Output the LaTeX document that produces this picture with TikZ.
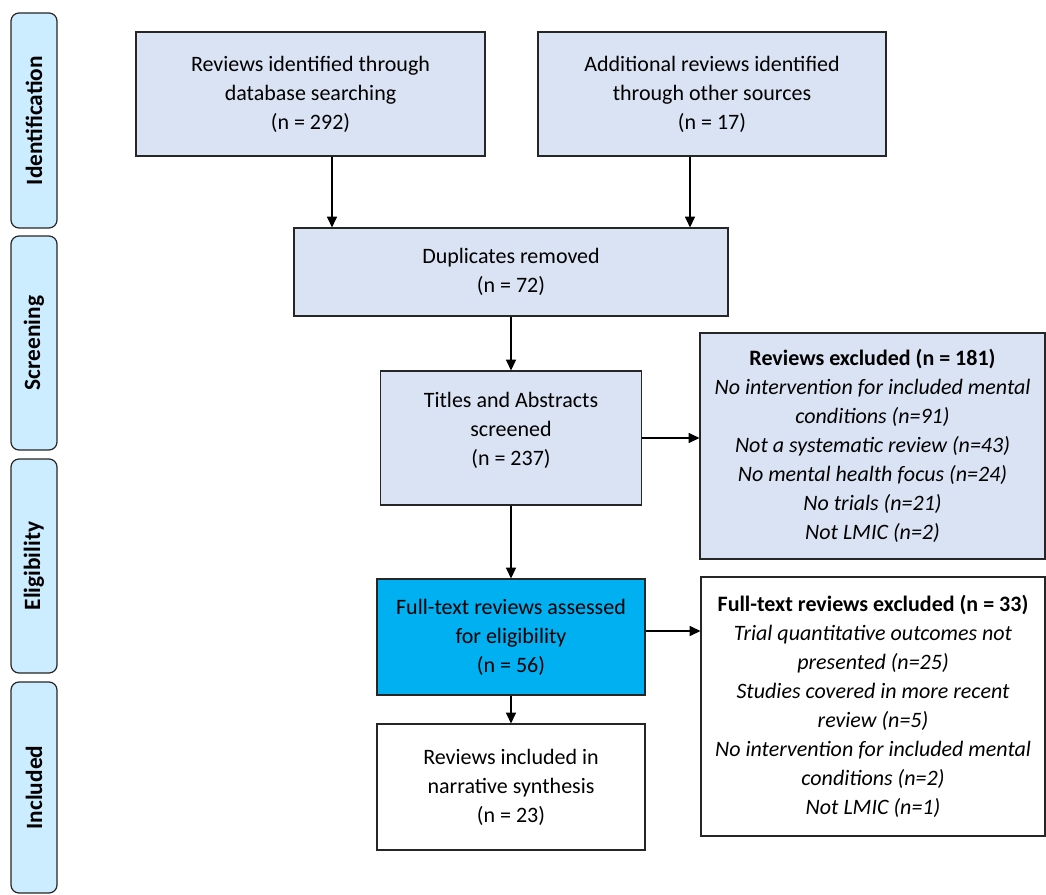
\documentclass[tikz,border=0pt]{standalone}
\usepackage{fontspec}
\setmainfont{Carlito}
\usetikzlibrary{arrows.meta}
\definecolor{boxblue}{HTML}{DAE3F3}
\definecolor{fullblue}{HTML}{00B0F0}
\definecolor{sideblue}{HTML}{CCECFF}
\tikzset{
  box/.style={draw=black!85, line width=0.9pt, fill=boxblue, align=center, inner sep=0pt,
    font=\fontsize{16.5}{21.75}\selectfont},
  whitebox/.style={box, fill=white},
  fullbox/.style={box, fill=fullblue},
  side/.style={draw=black!85, line width=0.9pt, fill=sideblue, rounded corners=6pt,
    minimum width=34.5pt, inner sep=0pt, font=\fontsize{17.5}{21}\selectfont\bfseries},
  arr/.style={draw=black, line width=1pt, -{Triangle[width=7.5pt,length=8pt]}}
}
\begin{document}
\begin{tikzpicture}[x=0.75pt, y=-0.75pt]
\useasboundingbox (0,0) rectangle (1046,895);
% side labels
\node[side, minimum height=161.25pt] (sid) at (34,120.5) {\rotatebox{90}{Identification}};
\node[side, minimum height=160.5pt] (sscr) at (34,343) {\rotatebox{90}{Screening}};
\node[side, minimum height=160.5pt] (selg) at (34,566) {\rotatebox{90}{Eligibility}};
\node[side, minimum height=158.25pt] (sinc) at (34,787.5) {\rotatebox{90}{Included}};
% main boxes
\node[box, minimum width=261.75pt, minimum height=93pt] (A) at (310.5,94)
  {Reviews identified through\\database searching\\(n = 292)};
\node[box, minimum width=261pt, minimum height=93pt] (B) at (712,94)
  {Additional reviews identified\\through other sources\\(n = 17)};
\node[box, minimum width=325.5pt, minimum height=66pt] (dup) at (511,272)
  {Duplicates removed\\(n = 72)};
\node[box, minimum width=195.75pt, minimum height=100.5pt] (tit) at (511,438) {};
\node[align=center, inner sep=0pt, font=\fontsize{16.5}{21.75}\selectfont] (titt) at (511,430)
  {Titles and Abstracts\\screened\\(n = 237)};
\node[box, minimum width=258.75pt, minimum height=169.5pt] (ex1) at (872.5,446)
  {\textbf{Reviews excluded (n = 181)}\\\itshape No intervention for included mental\\\itshape conditions (n=91)\\\itshape Not a systematic review (n=43)\\\itshape No mental health focus (n=24)\\\itshape No trials (n=21)\\\itshape Not LMIC (n=2)};
\node[fullbox, minimum width=201pt, minimum height=87pt] (full) at (511,637)
  {Full-text reviews assessed\\for eligibility\\(n = 56)};
\node[whitebox, minimum width=258pt, minimum height=194.25pt] (ex2) at (873,706.5)
  {\textbf{Full-text reviews excluded (n = 33)}\\\itshape Trial quantitative outcomes not\\\itshape presented (n=25)\\\itshape Studies covered in more recent\\\itshape review (n=5)\\\itshape No intervention for included mental\\\itshape conditions (n=2)\\\itshape Not LMIC (n=1)};
\node[whitebox, minimum width=201pt, minimum height=94.5pt] (inc) at (511,787)
  {Reviews included in\\narrative synthesis\\(n = 23)};
% connectors
\coordinate (ax) at (332,0);
\coordinate (bx) at (690,0);
\draw[arr] (A.south -| ax) -- (dup.north -| ax);
\draw[arr] (B.south -| bx) -- (dup.north -| bx);
\draw[arr] (dup) -- (tit);
\draw[arr] (tit.east) -- (tit.east -| ex1.west);
\draw[arr] (tit) -- (full);
\draw[arr] (full.east) ++(0,-6) coordinate (fe) -- (fe -| ex2.west);
\draw[arr] (full) -- (inc);
\end{tikzpicture}
\end{document}
